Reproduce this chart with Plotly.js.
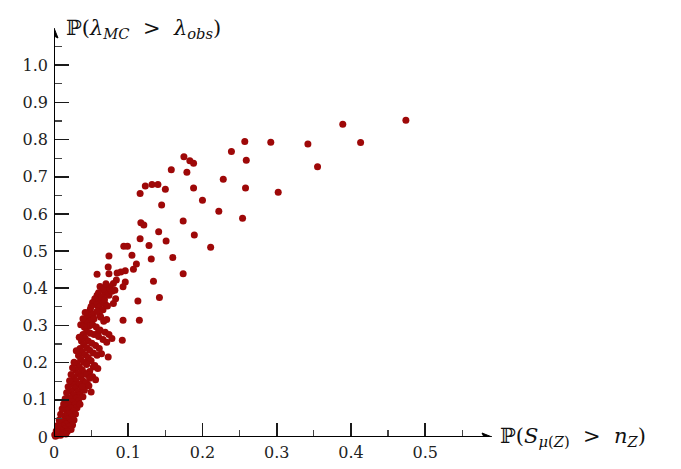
<!DOCTYPE html>
<html>
<head>
<meta charset="utf-8">
<script src="https://cdn.plot.ly/plotly-3.0.1.min.js"></script>
<style>html,body{margin:0;padding:0;background:#fff;}#chart{width:681px;height:469px;}</style>
</head>
<body>
<div id="chart"></div>
<script>
// P(S_mu(Z) > n_Z) values
const xVals = [
  0.389,0.474,0.257,0.292,0.342,0.413,0.239,0.259,0.355,0.258,0.302,0.254,
  0.175,0.183,0.188,0.158,0.179,0.228,0.123,0.132,0.140,0.116,0.150,0.188,0.145,0.200,0.222,
  0.117,0.121,0.174,0.141,0.189,0.116,0.151,0.211,0.128,0.094,0.099,0.105,0.160,0.131,
  0.074,0.111,0.073,0.058,0.174,0.096,0.090,0.085,0.107,0.074,0.134,0.096,0.084,0.080,
  0.075,0.071,0.069,0.093,0.082,0.058,0.083,0.113,0.142,0.064,0.080,0.093,0.115,0.078,
  0.092,0.058,0.069,0.071,0.062,0.060,0.049,0.046,0.046,0.064,0.073,0.053,0.059,0.045,
  0.062,0.066,0.070,0.055,0.060,0.064,0.068,0.074,0.078,0.052,0.057,0.061,0.066,0.072,
  0.050,0.048,0.053,0.058,0.063,0.067,0.045,0.049,0.054,0.043,0.047,0.052,0.057,0.062,
  0.069,0.074,0.041,0.044,0.049,0.054,0.060,0.066,0.071,0.039,0.042,0.046,0.051,0.056,
  0.061,0.037,0.040,0.044,0.048,0.053,0.058,0.035,0.038,0.042,0.046,0.050,0.033,0.036,
  0.040,0.044,0.048,0.031,0.034,0.038,0.041,0.052,0.056,0.029,0.032,0.036,0.039,0.043,
  0.047,0.027,0.030,0.034,0.037,0.041,0.025,0.028,0.032,0.035,0.039,0.023,0.026,0.030,
  0.033,0.021,0.024,0.028,0.031,0.019,0.022,0.026,0.029,0.017,0.020,0.024,0.027,0.015,
  0.018,0.022,0.025,0.013,0.016,0.020,0.023,0.011,0.014,0.018,0.009,0.012,0.016,0.006,
  0.009,0.004,0.002,0.001,0.003,0.005,0.007,0.009,0.011,0.013,0.015,0.017,0.019,0.021,
  0.023,0.025,0.027,0.036,0.039,0.042,0.030,0.034,0.044,0.048,0.055,0.050,0.038,0.035
];
// P(lambda_MC > lambda_obs) values
const yVals = [
  0.841,0.852,0.795,0.793,0.788,0.792,0.768,0.744,0.727,0.670,0.658,0.588,
  0.754,0.743,0.736,0.719,0.712,0.693,0.675,0.679,0.679,0.655,0.666,0.670,0.624,0.637,0.607,
  0.576,0.570,0.581,0.552,0.543,0.533,0.527,0.510,0.515,0.513,0.513,0.489,0.483,0.479,
  0.487,0.465,0.457,0.438,0.439,0.447,0.444,0.441,0.451,0.439,0.419,0.417,0.422,0.413,
  0.404,0.395,0.386,0.404,0.395,0.381,0.372,0.366,0.375,0.363,0.359,0.314,0.314,0.265,
  0.260,0.370,0.357,0.316,0.327,0.283,0.344,0.320,0.211,0.224,0.215,0.188,0.184,0.142,
  0.405,0.398,0.412,0.372,0.388,0.376,0.369,0.381,0.392,0.362,0.356,0.349,0.342,0.352,
  0.351,0.338,0.331,0.338,0.322,0.311,0.328,0.312,0.318,0.308,0.298,0.302,0.296,0.288,
  0.282,0.276,0.295,0.284,0.279,0.276,0.270,0.262,0.255,0.276,0.266,0.258,0.252,0.246,
  0.238,0.258,0.248,0.240,0.233,0.226,0.220,0.238,0.228,0.221,0.214,0.205,0.219,0.209,
  0.201,0.195,0.176,0.198,0.189,0.181,0.172,0.162,0.154,0.180,0.170,0.162,0.151,0.146,
  0.138,0.160,0.150,0.141,0.132,0.126,0.141,0.131,0.122,0.114,0.108,0.123,0.113,0.104,
  0.097,0.105,0.095,0.087,0.079,0.088,0.078,0.070,0.062,0.072,0.063,0.054,0.046,0.056,
  0.048,0.040,0.032,0.042,0.034,0.027,0.020,0.030,0.022,0.015,0.019,0.012,0.008,0.010,
  0.005,0.004,0.002,0.006,0.016,0.031,0.046,0.061,0.076,0.089,0.103,0.119,0.135,0.151,
  0.168,0.186,0.201,0.302,0.318,0.335,0.232,0.268,0.168,0.158,0.192,0.121,0.136,0.088
];
const xTickVals = [0, 0.1, 0.2, 0.3, 0.4, 0.5];
const xTickText = ["0", "0.1", "0.2", "0.3", "0.4", "0.5"];
const yTickVals = [0, 0.1, 0.2, 0.3, 0.4, 0.5, 0.6, 0.7, 0.8, 0.9, 1.0];
const yTickText = ["0", "0.1", "0.2", "0.3", "0.4", "0.5", "0.6", "0.7", "0.8", "0.9", "1.0"];
const xTitle = "ℙ(<i>S</i><sub><i>μ</i>(<i>Z</i>)</sub> &nbsp;>&nbsp; <i>n</i><sub><i>Z</i></sub>)";
const yTitle = "ℙ(<i>λ</i><sub><i>MC</i></sub> &nbsp;>&nbsp; <i>λ</i><sub><i>obs</i></sub>)";

const xMax = 0.59, yMax = 1.1;
const fontFam = "DejaVu Serif, Liberation Serif, serif";

const trace = {
  x: xVals, y: yVals, type: 'scatter', mode: 'markers',
  marker: {size: 7, color: '#9e0808', line: {width: 0}},
  cliponaxis: false, hoverinfo: 'skip'
};

const axisCommon = {
  showgrid: false, zeroline: false, showline: false,
  ticks: 'inside', tickcolor: '#1a1a1a', tickwidth: 1.6,
  tickfont: {family: fontFam, size: 16, color: '#222'},
  tickmode: 'array', fixedrange: true
};

const layout = {
  width: 681, height: 469,
  margin: {l: 54, r: 188.6, t: 27.8, b: 32.3},
  paper_bgcolor: '#fff', plot_bgcolor: '#fff',
  showlegend: false,
  xaxis: Object.assign({}, axisCommon, {
    range: [0, xMax], tickvals: xTickVals, ticktext: xTickText, ticklen: 14,
    ticklabelstandoff: 4,
    minor: {ticks: 'inside', ticklen: 7, tickvals: [0.05, 0.15, 0.25, 0.35, 0.45, 0.55], tickcolor: '#444', tickwidth: 1.2}
  }),
  yaxis: Object.assign({}, axisCommon, {
    range: [0, yMax], tickvals: yTickVals, ticktext: yTickText, ticklen: 15,
    ticklabelstandoff: 5,
    minor: {ticks: 'inside', ticklen: 8, tickvals: [0.05, 0.15, 0.25, 0.35, 0.45, 0.55, 0.65, 0.75, 0.85, 0.95, 1.05], tickcolor: '#444', tickwidth: 1.2}
  }),
  shapes: [
    {type: 'line', xref: 'x', yref: 'y', x0: -0.004, y0: 0, x1: xMax - 0.008, y1: 0,
     line: {color: '#000', width: 2}, layer: 'above'},
    {type: 'line', xref: 'x', yref: 'y', x0: 0, y0: -0.004, x1: 0, y1: yMax - 0.015,
     line: {color: '#000', width: 2}, layer: 'above'},
    {type: 'path', xref: 'x', yref: 'y', xsizemode: 'pixel', ysizemode: 'pixel',
     xanchor: xMax, yanchor: 0, path: 'M 0 0 L -10 4 L -8 0 L -10 -4 Z',
     fillcolor: '#000', line: {color: '#000', width: 1}, layer: 'above'},
    {type: 'path', xref: 'x', yref: 'y', xsizemode: 'pixel', ysizemode: 'pixel',
     xanchor: 0, yanchor: yMax, path: 'M 0 0 L -4 -10 L 0 -8 L 4 -10 Z',
     fillcolor: '#000', line: {color: '#000', width: 1}, layer: 'above'}
  ],
  annotations: [
    {x: xMax, y: 0, xref: 'x', yref: 'y', xanchor: 'left', yanchor: 'middle', xshift: 6, yshift: 0,
     showarrow: false, text: xTitle, font: {family: fontFam, size: 21, color: '#111'}},
    {x: 0, y: yMax, xref: 'x', yref: 'y', xanchor: 'left', yanchor: 'middle', xshift: 10, yshift: -1,
     showarrow: false, text: yTitle, font: {family: fontFam, size: 21, color: '#111'}}
  ]
};

Plotly.newPlot('chart', [trace], layout, {displayModeBar: false, staticPlot: true});
</script>
</body>
</html>
